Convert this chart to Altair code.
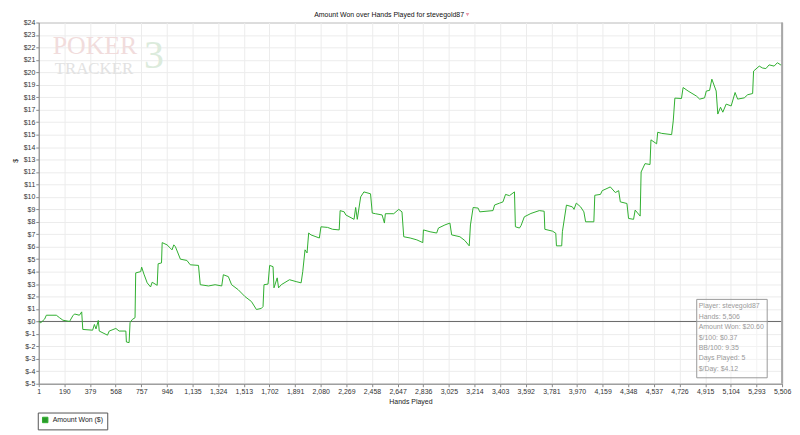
import json
import altair as alt
import pandas as pd

# ---- data ----
hands = [
    1, 16, 45, 57, 131, 155, 180, 229, 253, 266,
    302, 319, 327, 400, 413, 425, 442, 449, 510, 523,
    572, 596, 646, 650, 670, 677, 694, 714, 719, 756,
    763, 780, 804, 829, 841, 878, 885, 910, 915, 951,
    976, 988, 1001, 1013, 1050, 1098, 1123, 1184, 1197, 1258,
    1307, 1356, 1368, 1405, 1429, 1478, 1528, 1576, 1613, 1650,
    1662, 1669, 1699, 1711, 1736, 1743, 1767, 1777, 1797, 1858,
    1907, 1944, 1956, 1973, 1988, 2000, 2017, 2054, 2079, 2091,
    2140, 2177, 2226, 2233, 2263, 2275, 2336, 2348, 2360, 2385,
    2409, 2458, 2471, 2495, 2544, 2561, 2568, 2630, 2667, 2691,
    2704, 2752, 2801, 2845, 2850, 2899, 2948, 2961, 3009, 3046,
    3059, 3120, 3156, 3189, 3198, 3218, 3255, 3267, 3365, 3377,
    3414, 3439, 3458, 3487, 3524, 3531, 3561, 3573, 3597, 3646,
    3708, 3744, 3749, 3806, 3830, 3835, 3874, 3879, 3909, 3953,
    3965, 3982, 4014, 4038, 4051, 4112, 4119, 4161, 4174, 4234,
    4271, 4296, 4308, 4357, 4369, 4406, 4418, 4455, 4462, 4491,
    4528, 4535, 4577, 4585, 4614, 4688, 4700, 4712, 4761, 4773,
    4810, 4871, 4896, 4932, 4945, 4969, 4986, 5018, 5030, 5050,
    5067, 5092, 5129, 5158, 5177, 5226, 5251, 5288, 5295, 5337,
    5361, 5386, 5410, 5447, 5471, 5496, 5506,
]
amount_won = [
    0.0, -0.1, 0.2, 0.5, 0.5, 0.3, 0.1, 0.0, 0.45, 0.6,
    0.5, 0.77, -0.64, -0.7, -0.24, -0.6, 0.08, -0.77, -1.1, -0.77,
    -0.56, -0.77, -0.77, -1.65, -1.7, -0.1, 0.16, 0.3, 3.9, 4.0,
    4.36, 3.8, 3.1, 2.77, 3.15, 2.9, 4.63, 4.7, 6.33, 6.15,
    5.88, 5.75, 6.15, 6.0, 5.0, 4.9, 4.55, 4.5, 2.95, 2.85,
    2.95, 2.85, 3.75, 3.6, 2.95, 2.55, 2.0, 1.6, 0.96, 1.05,
    1.2, 2.95, 3.0, 4.5, 4.4, 2.7, 3.5, 2.7, 2.95, 3.35,
    3.2, 3.1, 4.0, 5.75, 5.5, 7.1, 6.95, 6.8, 6.7, 7.6,
    7.55, 7.4, 7.35, 8.9, 8.8, 8.55, 8.2, 9.15, 8.2, 10.0,
    10.4, 10.25, 8.7, 8.65, 8.55, 7.9, 8.65, 8.65, 9.0, 8.8,
    6.8, 6.7, 6.55, 6.33, 7.35, 7.2, 7.1, 7.5, 7.75, 7.9,
    6.95, 6.8, 6.5, 6.07, 7.75, 9.15, 9.1, 8.8, 8.9, 9.35,
    9.5, 9.6, 10.2, 10.1, 10.4, 7.6, 7.5, 7.7, 8.4, 8.67,
    8.9, 8.85, 7.4, 7.25, 7.08, 6.07, 6.07, 7.2, 9.34, 9.2,
    9.0, 9.5, 9.2, 8.8, 8.0, 8.0, 10.13, 10.2, 10.5, 10.8,
    10.35, 10.5, 9.6, 9.47, 8.27, 8.2, 8.94, 8.46, 12.0, 12.67,
    12.6, 14.58, 14.26, 15.19, 15.1, 15.0, 16.1, 17.93, 17.9, 18.78,
    18.5, 18.1, 17.85, 17.95, 18.5, 18.55, 19.45, 18.5, 16.65, 17.2,
    16.8, 17.45, 17.3, 18.38, 17.85, 17.95, 18.2, 18.3, 20.1, 20.5,
    20.35, 20.3, 20.6, 20.5, 20.77, 20.6, 20.6,
]
series_name = "Amount Won ($)"

x_tick_labels = ["1", "190", "379", "568", "757", "946", "1,135", "1,324", "1,513", "1,702",
                 "1,891", "2,080", "2,269", "2,458", "2,647", "2,836", "3,025", "3,214", "3,403",
                 "3,592", "3,781", "3,970", "4,159", "4,348", "4,537", "4,726", "4,915", "5,104",
                 "5,293", "5,506"]
y_ticks = list(range(-5, 25))

stats_lines = ["Player: stevegold87", "Hands: 5,506", "Amount Won: $20.60", "$/100: $0.37",
               "BB/100: 9.35", "Days Played: 5", "$/Day: $4.12"]
title_text = "Amount Won over Hands Played for stevegold87"

X_MIN, X_MAX = 1, 5506
n_int = len(x_tick_labels) - 1
x_tick_values = [X_MIN + k * (X_MAX - X_MIN) / n_int for k in range(len(x_tick_labels))]

FONT = "Liberation Sans"
W, H = 749, 364

df = pd.DataFrame({"hand": hands, "won": amount_won, "series": series_name})

x_scale = alt.Scale(domain=[X_MIN, X_MAX], nice=False, zero=False)
y_scale = alt.Scale(domain=[-5, 24], nice=False, zero=False)

x_axis = alt.Axis(
    values=x_tick_values,
    labelExpr=f"{json.dumps(x_tick_labels)}[round((datum.value-{X_MIN})*{n_int}/{X_MAX - X_MIN})]",
    title="Hands Played", titleFontSize=7, titleFontWeight="normal", titleFont=FONT,
    titleColor="#222", titlePadding=3,
    labelFontSize=7, labelFont=FONT, labelColor="#333", labelPadding=1,
    tickColor="#888", tickSize=3, domainColor="#888",
    grid=True, gridColor="#ececec", labelOverlap=False, labelFlush=False,
)
y_axis = alt.Axis(
    values=y_ticks, labelExpr="'$' + datum.value",
    title="$", titleFontSize=7, titleFontWeight="normal", titleFont=FONT, titleColor="#222",
    titleX=-20, titleY=139,
    labelFontSize=7, labelFont=FONT, labelColor="#333", labelPadding=1,
    tickColor="#888", tickSize=3, domainColor="#888",
    grid=True, gridColor="#ececec", labelOverlap=False,
)

line = alt.Chart(df).mark_line(strokeWidth=1, clip=True).encode(
    x=alt.X("hand:Q", scale=x_scale, axis=x_axis),
    y=alt.Y("won:Q", scale=y_scale, axis=y_axis),
    color=alt.Color(
        "series:N",
        scale=alt.Scale(range=["#2fae2f"]),
        legend=alt.Legend(
            title=None, orient="none", legendX=-1, legendY=393,
            symbolType="square", symbolSize=30, symbolStrokeColor="#333", symbolStrokeWidth=1,
            symbolFillColor="#2a9a2a",
            labelFontSize=7, labelFont=FONT, labelColor="#222",
            strokeColor="#555", padding=4, fillColor="white",
        ),
    ),
)

zero = alt.Chart(pd.DataFrame({"won": [0]})).mark_rule(color="#666", strokeWidth=1).encode(
    y=alt.Y("won:Q", scale=y_scale, axis=y_axis)
)
right_edge = alt.Chart(pd.DataFrame({"hand": [X_MAX]})).mark_rule(color="#a8a8a8", strokeWidth=2).encode(
    x=alt.X("hand:Q", scale=x_scale, axis=x_axis)
)

# PokerTracker logo (faint)
logo = alt.layer(
    alt.Chart(pd.DataFrame({"t": ["POKER"]})).mark_text(
        font="Liberation Serif", fontSize=26, color="#f1dcdc", align="left", baseline="alphabetic"
    ).encode(text="t:N", x=alt.value(14), y=alt.value(32)),
    alt.Chart(pd.DataFrame({"t": ["3"]})).mark_text(
        font="Liberation Serif", fontSize=40, color="#dcebdc", align="left", baseline="alphabetic"
    ).encode(text="t:N", x=alt.value(106), y=alt.value(46)),
    alt.Chart(pd.DataFrame({"t": ["TRACKER"]})).mark_text(
        font="Liberation Serif", fontSize=17, color="#e2e2e2", align="left", baseline="alphabetic",
    ).encode(text="t:N", x=alt.value(16), y=alt.value(52)),
)

# stats box
box = alt.Chart(pd.DataFrame({"a": [0]})).mark_rect(
    fill="white", fillOpacity=0.35, stroke="#999", strokeWidth=1
).encode(x=alt.value(663), x2=alt.value(734), y=alt.value(279), y2=alt.value(358))
stats = alt.Chart(pd.DataFrame({"t": ["\n".join(stats_lines)]})).mark_text(
    font=FONT, fontSize=7, color="#9a9a9a", align="left", baseline="middle",
    lineBreak="\n", lineHeight=10.5,
).encode(text="t:N", x=alt.value(665), y=alt.value(286))

title = alt.Chart(pd.DataFrame({"t": [title_text]})).mark_text(
    font=FONT, fontSize=7, color="#111", align="center", baseline="middle"
).encode(text="t:N", x=alt.value(353), y=alt.value(-8))
icon = alt.Chart(pd.DataFrame({"a": [0]})).mark_point(
    shape="triangle-down", filled=True, color="#e99aac", size=14, opacity=1
).encode(x=alt.value(432), y=alt.value(-8))

chart = alt.layer(
    logo, zero, line, right_edge, box, stats, title, icon
).properties(
    width=W, height=H,
    autosize=alt.AutoSizeParams(type="none"),
    padding={"left": 31, "top": 13, "right": 10, "bottom": 46},
    background="white",
).configure_view(stroke="#9a9a9a", strokeWidth=1)

chart.save("out.html", embed_options={"renderer": "svg", "actions": False})
